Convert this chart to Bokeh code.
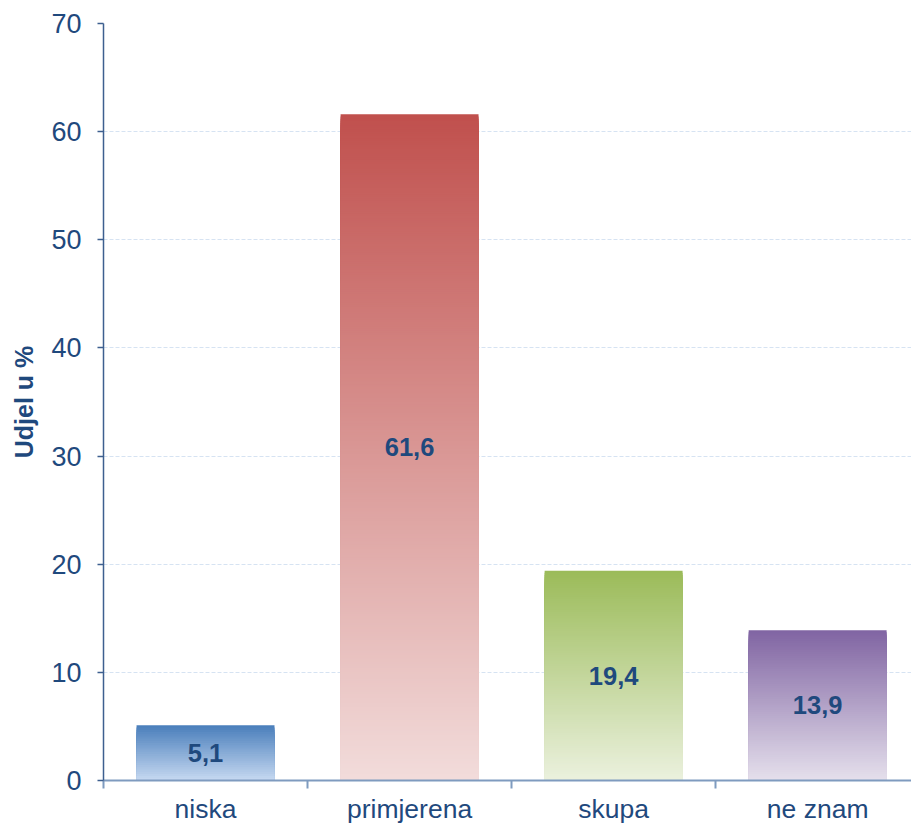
from bokeh.plotting import figure
from bokeh.models import Range1d, FixedTicker, ColumnDataSource
from bokeh.core.properties import value
from bokeh.embed import file_html
from bokeh.resources import INLINE

# ---- data ----
categories = ["niska", "primjerena", "skupa", "ne znam"]
shares = [5.1, 61.6, 19.4, 13.9]
value_labels = ["5,1", "61,6", "19,4", "13,9"]
y_ticks = [0, 10, 20, 30, 40, 50, 60, 70]

# gradient colours per bar (top, bottom)
top_colors = ["#4a7ebb", "#c0504d", "#9bbb59", "#8064a2"]
bottom_colors = ["#c6d9f1", "#f2dcdb", "#ebf1de", "#e5e0ec"]

FONT = "Liberation Sans"
TEXT_COLOR = "#1f497d"


def hex_to_rgb(h):
    h = h.lstrip("#")
    return tuple(int(h[i:i + 2], 16) for i in (0, 2, 4))


def mix(c1, c2, t):
    a, b = hex_to_rgb(c1), hex_to_rgb(c2)
    return "#%02x%02x%02x" % tuple(int(round(a[i] + (b[i] - a[i]) * t)) for i in range(3))


n_cats = len(categories)
x_end = 3.96  # frame extends slightly beyond window edge in original

p = figure(width=911, height=827, output_backend="svg", toolbar_location=None,
           x_range=Range1d(0, x_end), y_range=Range1d(0, 70),
           min_border_left=103, min_border_right=0, min_border_top=23,
           min_border_bottom=47)
p.outline_line_color = None
p.background_fill_color = "white"
p.border_fill_color = "white"

# gradient bars: nested bars from full height down, each a bit lighter
bar_w = 0.676
step = 0.2
left, right, bottom, top, color = [], [], [], [], []
for i, v in enumerate(shares):
    cx = i + 0.5
    n = max(int(round(v / step)), 1)
    for k in range(n, 0, -1):
        t = v * k / n
        frac = (k - 0.5) / n
        left.append(cx - bar_w / 2)
        right.append(cx + bar_w / 2)
        bottom.append(0)
        top.append(t)
        color.append(mix(bottom_colors[i], top_colors[i], frac))
src = ColumnDataSource(dict(left=left, right=right, bottom=bottom, top=top, color=color))
p.quad(left="left", right="right", bottom="bottom", top="top", fill_color="color",
       line_color=None, source=src)

# value labels in bar middles
lab_src = ColumnDataSource(dict(x=[i + 0.5 for i in range(n_cats)],
                                y=[v / 2 for v in shares], t=value_labels))
p.text(x="x", y="y", text="t", source=lab_src, text_align="center",
       text_baseline="middle", text_font=value(FONT), text_font_style="bold",
       text_font_size="25.5px", text_color=TEXT_COLOR)

# y axis
p.yaxis.ticker = FixedTicker(ticks=y_ticks)
p.yaxis.axis_label = "Udjel u %"
p.yaxis.axis_label_text_font = FONT
p.yaxis.axis_label_text_font_style = "bold"
p.yaxis.axis_label_text_font_size = "25px"
p.yaxis.axis_label_text_color = TEXT_COLOR
p.yaxis.axis_label_standoff = 10
p.yaxis.major_label_text_font = FONT
p.yaxis.major_label_text_font_size = "27px"
p.yaxis.major_label_text_color = TEXT_COLOR
p.yaxis.major_label_standoff = 16
p.yaxis.axis_line_color = "#3d5f8f"
p.yaxis.axis_line_width = 1.5
p.yaxis.major_tick_line_color = "#3d5f8f"
p.yaxis.major_tick_line_width = 1.5
p.yaxis.major_tick_in = 0
p.yaxis.major_tick_out = 6
p.yaxis.minor_tick_line_color = None

# x axis: labels at centres, tick marks at category boundaries (minor ticks)
centers = [i + 0.5 for i in range(n_cats)]
p.xaxis.ticker = FixedTicker(ticks=centers, minor_ticks=list(range(n_cats + 1)))
p.xaxis.major_label_overrides = {c: name for c, name in zip(centers, categories)}
p.xaxis.major_label_text_font = FONT
p.xaxis.major_label_text_font_size = "26.5px"
p.xaxis.major_label_text_color = TEXT_COLOR
p.xaxis.major_label_standoff = 5
p.xaxis.major_tick_line_color = None
p.xaxis.major_tick_in = 0
p.xaxis.major_tick_out = 0
p.xaxis.minor_tick_line_color = "#7f9bbf"
p.xaxis.minor_tick_line_width = 2
p.xaxis.minor_tick_in = 0
p.xaxis.minor_tick_out = 8
p.xaxis.axis_line_color = "#7f9bbf"
p.xaxis.axis_line_width = 2

# grid
p.xgrid.grid_line_color = None
p.ygrid.grid_line_color = "#d6e3f2"
p.ygrid.grid_line_dash = "4 2"
p.ygrid.grid_line_width = 1

open("out.html", "w").write(file_html(p, INLINE))
